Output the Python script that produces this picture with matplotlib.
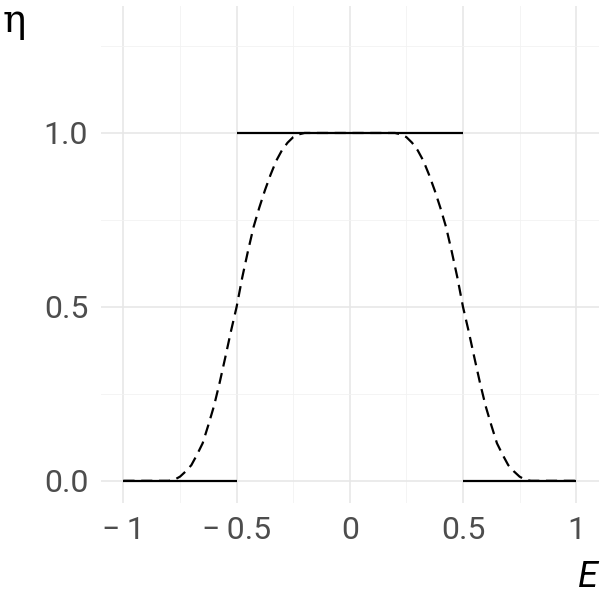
import numpy as np
import matplotlib
matplotlib.use("Agg")
import matplotlib.pyplot as plt
from matplotlib.ticker import MultipleLocator

# step (sharp) eta
step_x0 = [-1.0, -0.5, 0.5]
step_x1 = [-0.5, 0.5, 1.0]
step_y = [0.0, 1.0, 0.0]

# smooth eta (dashed)
smooth_x = [-1.0, -0.8, -0.775, -0.75, -0.725, -0.7, -0.675, -0.65, -0.625, -0.6,
            -0.575, -0.55, -0.525, -0.5, -0.475, -0.45, -0.425, -0.4, -0.375, -0.35,
            -0.325, -0.3, -0.275, -0.25, -0.225, -0.2, 0.0,
            0.2, 0.225, 0.25, 0.275, 0.3, 0.325, 0.35, 0.375, 0.4, 0.425, 0.45,
            0.475, 0.5, 0.525, 0.55, 0.575, 0.6, 0.625, 0.65, 0.675, 0.7, 0.725,
            0.75, 0.775, 0.8, 1.0]
smooth_y = [0.0, 0.0, 0.003, 0.012, 0.027, 0.045, 0.075, 0.108, 0.160, 0.215,
            0.282, 0.355, 0.430, 0.500, 0.585, 0.660, 0.730, 0.785, 0.835, 0.880,
            0.920, 0.950, 0.972, 0.988, 0.996, 1.0, 1.0,
            1.0, 0.996, 0.988, 0.972, 0.950, 0.920, 0.880, 0.835, 0.785, 0.730, 0.660,
            0.585, 0.500, 0.430, 0.355, 0.282, 0.215, 0.160, 0.108, 0.075, 0.045, 0.027,
            0.012, 0.003, 0.0, 0.0]

x_ticks = [-1, -0.5, 0, 0.5, 1]
x_labels = ["\u2212\u20091", "\u2212\u20090.5", "0", "0.5", "1"]
y_ticks = [0.0, 0.5, 1.0]
y_labels = ["0.0", "0.5", "1.0"]

plt.rcParams['font.family'] = ['Roboto', 'DejaVu Sans']

fig = plt.figure(figsize=(6, 6), dpi=100)
ax = fig.add_axes([0.168, 0.161, 0.83, 0.829])

ax.hlines(step_y, step_x0, step_x1, color='black', lw=1.6)
ax.plot(smooth_x, smooth_y, color='black', lw=1.6, dashes=(5, 3))

ax.set_xlim(-1.1, 1.1)
ax.set_ylim(-0.065, 1.365)
ax.set_xticks(x_ticks)
ax.set_xticklabels(x_labels)
ax.set_yticks(y_ticks)
ax.set_yticklabels(y_labels)
ax.xaxis.set_minor_locator(MultipleLocator(0.25))
ax.yaxis.set_minor_locator(MultipleLocator(0.25))
ax.grid(which='major', color='#e6e6e6', lw=1.1)
ax.grid(which='minor', color='#f2f2f2', lw=0.6)
ax.set_axisbelow(True)
ax.tick_params(which='both', length=0, labelsize=23, labelcolor='#4d4d4d', pad=9)
for s in ax.spines.values():
    s.set_visible(False)

fig.text(0.004, 0.995, "\u03b7", fontsize=28, va='top', ha='left', family='DejaVu Serif')
fig.text(0.997, 0.008, "E", fontsize=26, style='italic', va='bottom', ha='right')

fig.savefig("out.png", dpi=100)
